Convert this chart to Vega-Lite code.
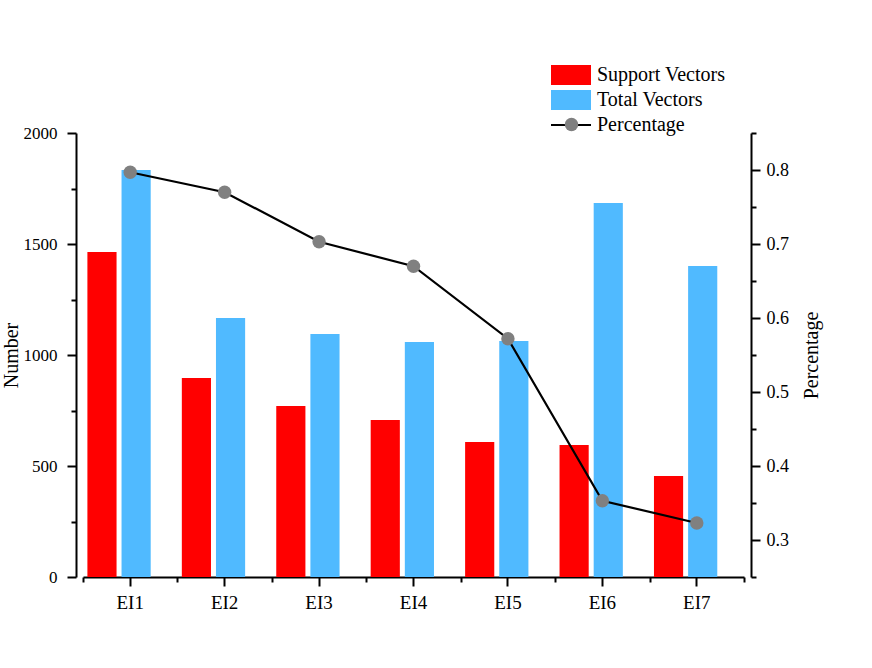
{
  "$schema": "https://vega.github.io/schema/vega-lite/v6.json",
  "width": 661,
  "height": 444,
  "autosize": "none",
  "padding": {"left": 83, "top": 133, "right": 128, "bottom": 91},
  "background": "white",
  "config": {
    "view": {"stroke": null},
    "font": "Liberation Serif",
    "axis": {
      "domainColor": "black",
      "domainWidth": 2,
      "tickColor": "black",
      "tickWidth": 2,
      "labelColor": "black",
      "titleColor": "black",
      "labelFont": "Liberation Serif",
      "titleFont": "Liberation Serif",
      "titleFontWeight": "normal",
      "grid": false
    }
  },
  "datasets": {
    "bars": [
      {"cat": "EI1", "series": "Support Vectors", "value": 1464},
      {"cat": "EI1", "series": "Total Vectors", "value": 1833},
      {"cat": "EI2", "series": "Support Vectors", "value": 896},
      {"cat": "EI2", "series": "Total Vectors", "value": 1167},
      {"cat": "EI3", "series": "Support Vectors", "value": 770},
      {"cat": "EI3", "series": "Total Vectors", "value": 1095},
      {"cat": "EI4", "series": "Support Vectors", "value": 707},
      {"cat": "EI4", "series": "Total Vectors", "value": 1059},
      {"cat": "EI5", "series": "Support Vectors", "value": 608},
      {"cat": "EI5", "series": "Total Vectors", "value": 1063},
      {"cat": "EI6", "series": "Support Vectors", "value": 595},
      {"cat": "EI6", "series": "Total Vectors", "value": 1685},
      {"cat": "EI7", "series": "Support Vectors", "value": 455},
      {"cat": "EI7", "series": "Total Vectors", "value": 1401}
    ],
    "pct": [
      {"cat": "EI1", "pct": 0.797},
      {"cat": "EI2", "pct": 0.770},
      {"cat": "EI3", "pct": 0.703},
      {"cat": "EI4", "pct": 0.670},
      {"cat": "EI5", "pct": 0.572},
      {"cat": "EI6", "pct": 0.353},
      {"cat": "EI7", "pct": 0.323}
    ]
  },
  "layer": [
    {
      "data": {"name": "bars"},
      "mark": {"type": "bar"},
      "encoding": {
        "x": {
          "field": "cat",
          "type": "nominal",
          "scale": {"paddingInner": 0, "paddingOuter": 0},
          "axis": {"orient": "bottom", "title": null, "labelAngle": 0, "labelFontSize": 19, "tickSize": 9, "labelPadding": 7}
        },
        "xOffset": {
          "field": "series",
          "type": "nominal",
          "scale": {"domain": ["Support Vectors", "Total Vectors"], "range": [4.4, 67.7], "paddingInner": 0.146, "paddingOuter": 0}
        },
        "y": {
          "field": "value",
          "type": "quantitative",
          "scale": {"domain": [0, 2000], "nice": false},
          "axis": {
            "orient": "left",
            "offset": 7,
            "values": [0, 250, 500, 750, 1000, 1250, 1500, 1750, 2000],
            "format": "d",
            "labelExpr": "datum.value % 500 === 0 ? datum.label : ''",
            "tickSize": {"condition": {"test": "datum.value % 500 === 0", "value": 9}, "value": 5},
            "labelFontSize": 17,
            "labelPadding": 10,
            "labelFlush": false,
            "labelOverlap": false,
            "title": "Number",
            "titleFontSize": 20,
            "titlePadding": 2
          }
        },
        "color": {
          "field": "series",
          "type": "nominal",
          "scale": {"domain": ["Support Vectors", "Total Vectors", "Percentage"], "range": ["#ff0000", "#50baff", "#000000"]},
          "legend": {
            "title": null,
            "orient": "none",
            "legendX": 478,
            "legendY": -68,
            "labelFontSize": 20,
            "labelFont": "Liberation Serif",
            "labelColor": "black",
            "labelOffset": 16,
            "symbolSize": 400,
            "rowPadding": 5,
            "padding": 0,
            "encode": {
              "symbols": {
                "update": {
                  "shape": {"signal": "datum.value === 'Percentage' ? 'M-2,-0.1H2V0.1H-2Z' : 'M-2,-1H2V1H-2Z'"},
                  "fill": {"signal": "scale('color', datum.value)"},
                  "stroke": {"value": "transparent"},
                  "strokeWidth": {"value": 0},
                  "opacity": {"value": 1}
                }
              }
            }
          }
        }
      }
    },
    {
      "data": {"name": "pct"},
      "encoding": {
        "x": {
          "field": "cat",
          "type": "nominal",
          "axis": {"orient": "bottom", "tickBand": "extent", "tickSize": 5, "labels": false, "domain": false, "title": null}
        },
        "y": {
          "field": "pct",
          "type": "quantitative",
          "scale": {"domain": [0.25, 0.85], "nice": false, "zero": false},
          "axis": {
            "orient": "right",
            "offset": 7,
            "values": [0.25, 0.3, 0.35, 0.4, 0.45, 0.5, 0.55, 0.6, 0.65, 0.7, 0.75, 0.8, 0.85],
            "labelExpr": "abs(datum.value*10 - round(datum.value*10)) < 0.001 ? format(datum.value, '.1f') : ''",
            "tickSize": {"condition": {"test": "abs(datum.value*10 - round(datum.value*10)) < 0.001", "value": 9}, "value": 5},
            "labelFontSize": 18,
            "labelPadding": 6,
            "labelFlush": false,
            "labelOverlap": false,
            "title": "Percentage",
            "titleFontSize": 20,
            "titleAngle": -90,
            "titleBaseline": "top",
            "titlePadding": 13
          }
        }
      },
      "layer": [
        {
          "mark": {"type": "line", "strokeWidth": 2.2},
          "encoding": {"color": {"datum": "Percentage"}}
        },
        {
          "mark": {"type": "point", "filled": true, "size": 180, "color": "#808080", "opacity": 1},
          "encoding": {
            "shape": {
              "datum": "Percentage",
              "scale": {"range": ["circle"]},
              "legend": {
                "title": null,
                "orient": "none",
                "legendX": 481,
                "legendY": -16,
                "labelExpr": "''",
                "symbolSize": 180,
                "padding": 0,
                "encode": {
                  "symbols": {
                    "update": {
                      "fill": {"value": "#808080"},
                      "stroke": {"value": "transparent"},
                      "opacity": {"value": 1}
                    }
                  }
                }
              }
            }
          }
        }
      ]
    }
  ],
  "resolve": {"scale": {"y": "independent"}, "axis": {"x": "independent"}}
}
